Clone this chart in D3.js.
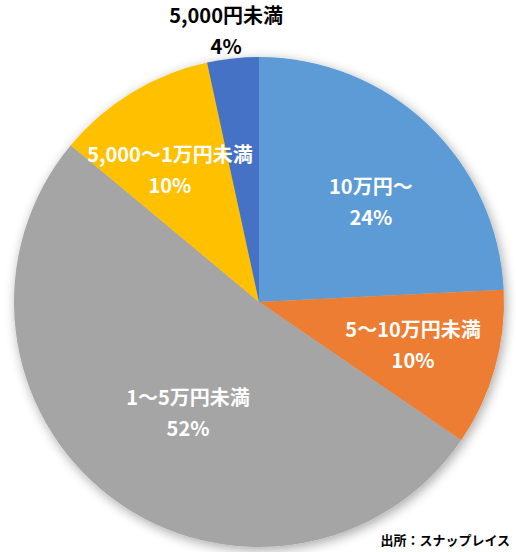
<!DOCTYPE html>
<html><head><meta charset="utf-8">
<script src="https://cdn.jsdelivr.net/npm/d3@7"></script>
<style>
html,body{margin:0;padding:0;background:#fff;}
svg{display:block;}
text{font-family:"Noto Sans CJK JP","Noto Sans",sans-serif;font-weight:bold;}
</style></head>
<body>
<script>
// ---- data ----
const categories = ["10万円〜","5〜10万円未満","1〜5万円未満","5,000〜1万円未満","5,000円未満"];
const values = [24.2, 10.35, 51.5, 10.55, 3.4];
const pctLabels = ["24%","10%","52%","10%","4%"];
const colors = ["#5B9BD5","#ED7D31","#A5A5A5","#FFC000","#4472C4"];
const source = "出所：スナップレイス";

// ---- layout ----
const W = 516, H = 552;
const cx = 259, cy = 302, R = 245;
const labelR = [0.611, 0.653, 0.541, 0.648, 1.114];   // label block distance / radius
const labelTurn = [4.8, -0.1, -4.7, -2.9, -0.8];       // degrees off the slice mid-angle
const labelColor = ["#fff","#fff","#fff","#fff","#000"];
const FS = 20, GAP = 31;

const svg = d3.select("body").append("svg").attr("width", W).attr("height", H);
const defs = svg.append("defs");
const f = defs.append("filter").attr("id","sh").attr("x","-20%").attr("y","-20%").attr("width","140%").attr("height","140%");
f.append("feGaussianBlur").attr("in","SourceAlpha").attr("stdDeviation",6).attr("result","b");
f.append("feOffset").attr("in","b").attr("dx",2).attr("dy",3).attr("result","o");
f.append("feComponentTransfer").attr("in","o").attr("result","o2")
  .append("feFuncA").attr("type","linear").attr("slope",0.35);
const m = f.append("feMerge");
m.append("feMergeNode").attr("in","o2");
m.append("feMergeNode").attr("in","SourceGraphic");

const pie = d3.pie().sort(null).value(d => d)(values);
const arc = d3.arc().innerRadius(0).outerRadius(R);

const g = svg.append("g").attr("transform", `translate(${cx},${cy})`);
g.append("g").attr("filter","url(#sh)")
  .selectAll("path").data(pie).join("path")
  .attr("d", arc)
  .attr("fill", (d,i) => colors[i]);

pie.forEach((d,i) => {
  const a = (d.startAngle + d.endAngle) / 2 + labelTurn[i] * Math.PI / 180;
  const r = R * labelR[i];
  const x = Math.sin(a) * r, y = -Math.cos(a) * r;
  const t = g.append("text").attr("text-anchor","middle")
    .attr("fill", labelColor[i]).attr("font-size", FS);
  t.append("tspan").attr("x", x).attr("y", y - GAP/2).attr("dy","0.35em").text(categories[i]);
  t.append("tspan").attr("x", x).attr("y", y + GAP/2).attr("dy","0.35em").text(pctLabels[i]);
});

svg.append("text").attr("x", 510).attr("y", 545).attr("text-anchor","end")
  .attr("font-size", 13).attr("fill","#000").text(source);
</script>
</body></html>
